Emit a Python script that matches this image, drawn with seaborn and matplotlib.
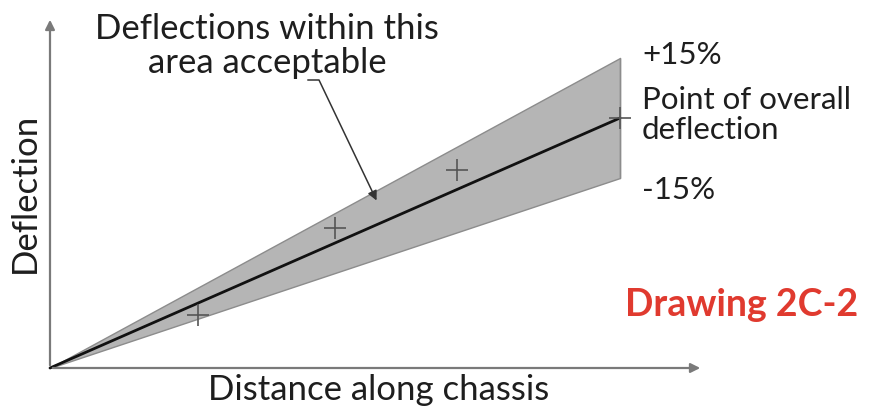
import matplotlib
matplotlib.use('Agg')
import matplotlib.pyplot as plt
import seaborn as sns
import pandas as pd

# values (distance, deflection in arbitrary units)
distance = [0.0, 10.0]
deflection = [0.0, 10.0]
upper_limit = [0.0, 12.4]
lower_limit = [0.0, 7.6]
meas_distance = [2.6, 5.0, 7.14, 10.0]
meas_deflection = [2.12, 5.6, 7.92, 10.0]

sns.set_style('white')
plt.rcParams['font.family'] = ['Lato', 'DejaVu Sans']

fig = plt.figure(figsize=(8.7, 4.08), dpi=100)
ax = fig.add_axes([0, 0, 1, 1])
ax.set_xlim(-50 / 57, 820 / 57)
ax.set_ylim(-40 / 25, 368 / 25)
ax.axis('off')

axis_col = '#7a7a7a'
# axes with arrow heads
ax.annotate('', xy=(653 / 57, 0), xytext=(0, 0),
            arrowprops=dict(arrowstyle='-|>', color=axis_col, lw=1.6, mutation_scale=14))
ax.annotate('', xy=(0, 351 / 25), xytext=(0, 0),
            arrowprops=dict(arrowstyle='-|>', color=axis_col, lw=1.6, mutation_scale=14))

# tolerance band
ax.fill_between(distance, lower_limit, upper_limit, color='#b5b5b5', edgecolor='#8c8c8c', lw=1)
ax.plot([distance[-1], distance[-1]], [lower_limit[-1], upper_limit[-1]], color='#8c8c8c', lw=1)
sns.lineplot(x=distance, y=deflection, color='#111111', lw=2, ax=ax)
sns.scatterplot(x=meas_distance, y=meas_deflection, marker='+', s=260, color='#555555',
                linewidth=1.2, ax=ax, zorder=5)

txt = dict(fontsize=25, fontweight='normal', color='#1e1e1e')
side = dict(txt, fontsize=22.5)
ax.text(267 / 57 - 50 / 57, 368 / 25 - 46 / 25, 'Deflections within this\narea acceptable',
        ha='center', va='center', linespacing=1.05, **txt)
ax.annotate('', xy=(5.75, 6.6), xytext=(255 / 57, 288 / 25),
            arrowprops=dict(arrowstyle='-|>', color='#333333', lw=1.1, mutation_scale=14,
                            connectionstyle='arc,angleA=0,armA=14,angleB=0,armB=0,rad=0'))

ax.text(592 / 57, (368 - 55) / 25, '+15%', ha='left', va='center', **side)
ax.text(592 / 57, (368 - 115) / 25, 'Point of overall\ndeflection', ha='left', va='center',
        linespacing=1.1, **side)
ax.text(592 / 57, (368 - 190) / 25, '-15%', ha='left', va='center', **side)

ax.text(-25 / 57, (368 - 193) / 25, 'Deflection', rotation=90, ha='center', va='center', **txt)
ax.text(329 / 57, -22 / 25, 'Distance along chassis', ha='center', va='center', **txt)

ax.text(575 / 57, (368 - 305) / 25, 'Drawing 2C-2', ha='left', va='center', fontsize=27,
        fontweight='bold', color='#e03a2f')

fig.savefig('out.png', dpi=100)
